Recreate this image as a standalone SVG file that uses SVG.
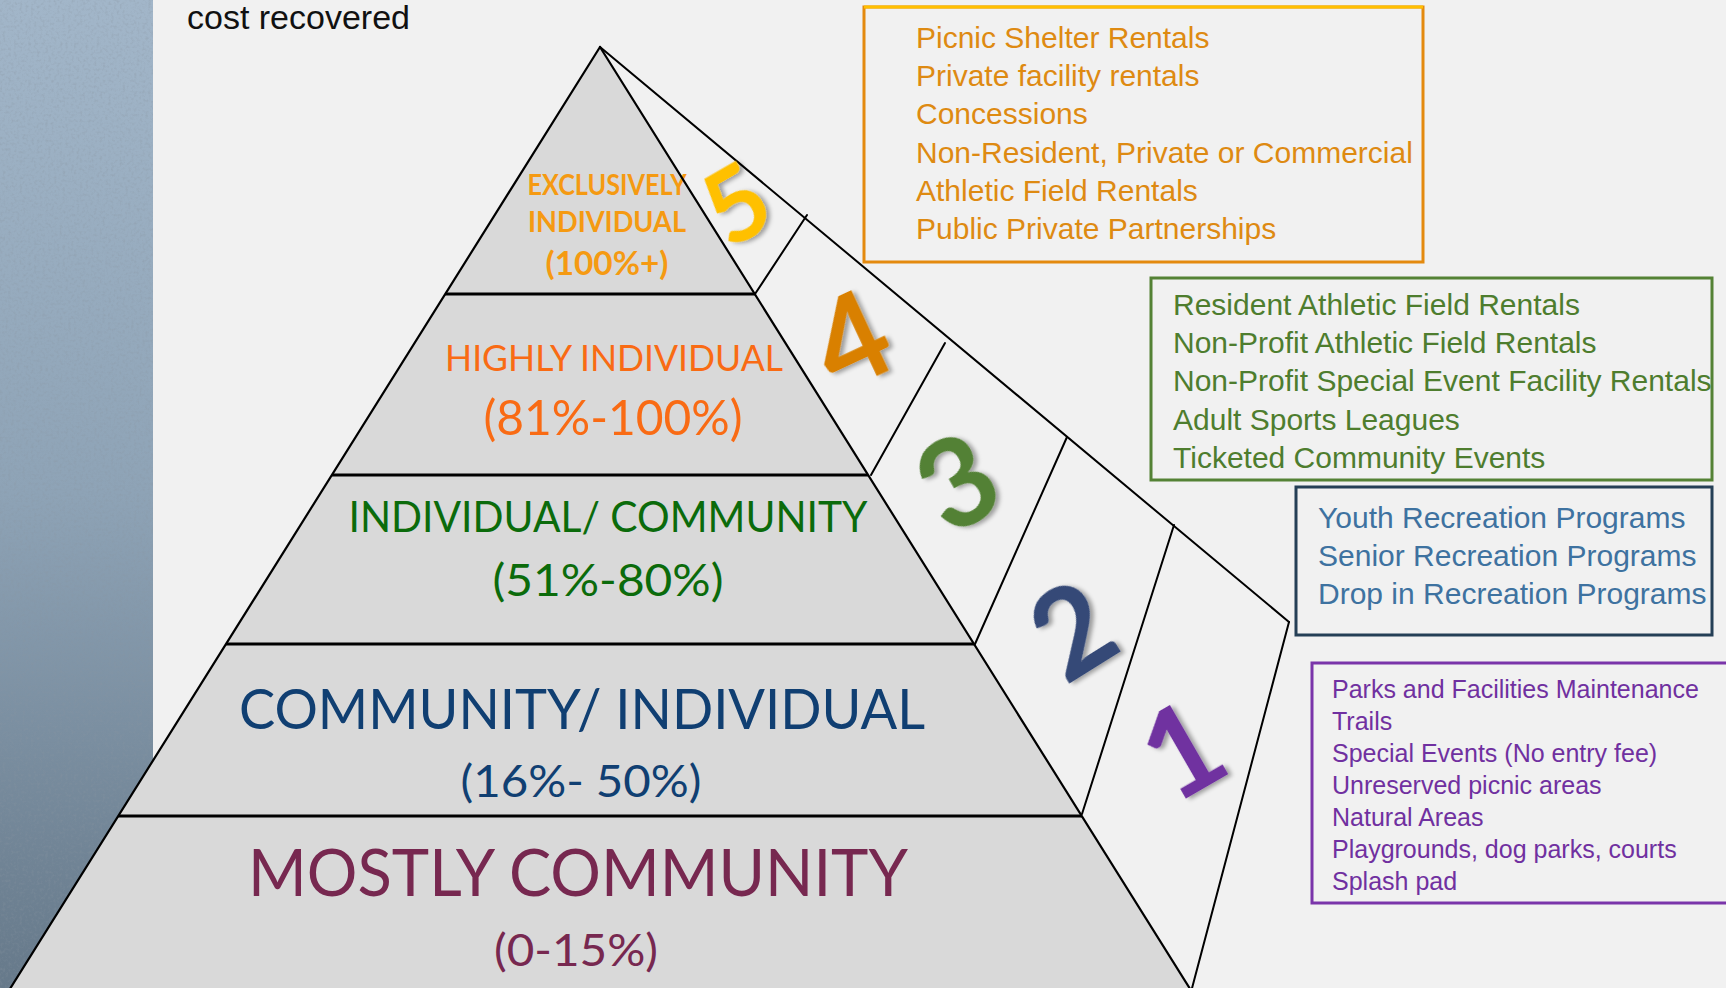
<svg xmlns="http://www.w3.org/2000/svg" width="1726" height="988" viewBox="0 0 1726 988">
  <defs>
    <linearGradient id="strip" x1="0" y1="0" x2="0" y2="1">
      <stop offset="0" stop-color="#a2b6c9"/>
      <stop offset="0.5" stop-color="#8ea3b6"/>
      <stop offset="1" stop-color="#66798a"/>
    </linearGradient>
    <filter id="noise" x="0" y="0" width="100%" height="100%">
      <feTurbulence type="fractalNoise" baseFrequency="0.35" numOctaves="2" seed="4" result="n"/>
      <feColorMatrix in="n" type="matrix" values="0 0 0 0 0.25  0 0 0 0 0.3  0 0 0 0 0.35  0 0 0 1.6 -0.75"/>
    </filter>
    <filter id="shadow" x="-30%" y="-30%" width="160%" height="160%">
      <feDropShadow dx="3" dy="3" stdDeviation="2" flood-color="#000" flood-opacity="0.35"/>
    </filter>
    <style>
      .layer { fill: #d9d9d9; stroke: none; }
      .edge { stroke: #000; stroke-width: 2.2; fill: none; stroke-linecap: round; }
      .div { stroke: #000; stroke-width: 3; fill: none; }
      .thin { stroke: #000; stroke-width: 2; fill: none; stroke-linecap: round; }
      .ptext { font-family: Lato, "Open Sans", "Liberation Sans", sans-serif; text-anchor: middle; }
      .num { font-family: Lato, "Open Sans", "Liberation Sans", sans-serif; font-size: 122px; font-weight: bold; text-anchor: middle; filter: url(#shadow); }
      .num5 { font-size: 102px; }
      .btext { font-family: "Liberation Sans", Arial, sans-serif; font-size: 30px; }
      .box { fill: none; stroke-width: 3; }
    </style>
  </defs>

  <rect x="0" y="0" width="1726" height="988" fill="#f1f1f1"/>
  <g id="side-strip">
    <rect x="0" y="0" width="153" height="988" fill="url(#strip)"/>
    <rect x="0" y="0" width="153" height="988" filter="url(#noise)" opacity="0.5"/>
  </g>

  <text id="caption" x="187" y="29" font-family="'Liberation Sans', Arial, sans-serif" font-size="34" fill="#111">cost recovered</text>

  <g id="layer-5">
    <polygon class="layer" points="600,47 755,294 445,294"/>
    <text class="ptext" x="607" y="195" font-size="28" font-weight="bold" fill="#f59a12" textLength="159" lengthAdjust="spacingAndGlyphs">EXCLUSIVELY</text>
    <text class="ptext" x="607" y="232" font-size="28" font-weight="bold" fill="#f59a12" textLength="158" lengthAdjust="spacingAndGlyphs">INDIVIDUAL</text>
    <text class="ptext" x="607" y="275" font-size="32" font-weight="bold" fill="#f59a12" textLength="123" lengthAdjust="spacingAndGlyphs">(100%+)</text>
  </g>
  <g id="layer-4">
    <polygon class="layer" points="445,294 755,294 868,475 332,475"/>
    <text class="ptext" x="614" y="371" font-size="36" fill="#f96b14" textLength="338" lengthAdjust="spacingAndGlyphs">HIGHLY INDIVIDUAL</text>
    <text class="ptext" x="613" y="435" font-size="49" fill="#f96b14" textLength="259" lengthAdjust="spacingAndGlyphs">(81%-100%)</text>
  </g>
  <g id="layer-3">
    <polygon class="layer" points="332,475 868,475 974,644 226,644"/>
    <text class="ptext" x="608" y="532" font-size="43" fill="#0b6b0b" textLength="519" lengthAdjust="spacingAndGlyphs">INDIVIDUAL/ COMMUNITY</text>
    <text class="ptext" x="608" y="596" font-size="45" fill="#0b6b0b" textLength="231" lengthAdjust="spacingAndGlyphs">(51%-80%)</text>
  </g>
  <g id="layer-2">
    <polygon class="layer" points="226,644 974,644 1082,816 118,816"/>
    <text class="ptext" x="582" y="729" font-size="56" fill="#103f72" textLength="686" lengthAdjust="spacingAndGlyphs">COMMUNITY/ INDIVIDUAL</text>
    <text class="ptext" x="581" y="797" font-size="44" fill="#103f72" textLength="241" lengthAdjust="spacingAndGlyphs">(16%- 50%)</text>
  </g>
  <g id="layer-1">
    <polygon class="layer" points="118,816 1082,816 1192,992 8,992"/>
    <text class="ptext" x="578" y="896" font-size="66" fill="#772850" textLength="660" lengthAdjust="spacingAndGlyphs">MOSTLY COMMUNITY</text>
    <text class="ptext" x="576" y="966" font-size="45" fill="#772850" textLength="164" lengthAdjust="spacingAndGlyphs">(0-15%)</text>
  </g>

  <g id="connectors">
    <line class="edge" x1="600" y1="47" x2="8" y2="992"/>
    <line class="edge" x1="600" y1="47" x2="1192" y2="992"/>
    <line class="div" x1="445" y1="294" x2="755" y2="294"/>
    <line class="div" x1="332" y1="475" x2="868" y2="475"/>
    <line class="div" x1="226" y1="644" x2="974" y2="644"/>
    <line class="div" x1="118" y1="816" x2="1082" y2="816"/>
    <line class="thin" x1="600" y1="47" x2="1289" y2="622"/>
    <line class="thin" x1="1289" y1="622" x2="1191" y2="992"/>
    <line class="thin" x1="755" y1="294" x2="807" y2="215"/>
    <line class="thin" x1="871" y1="475" x2="945" y2="343"/>
    <line class="thin" x1="975" y1="644" x2="1067" y2="437"/>
    <line class="thin" x1="1082" y1="814" x2="1174" y2="525"/>
  </g>

  <g id="tier-numbers">
    <text class="num num5" transform="translate(736,204) rotate(-30)" y="36" fill="#ffc000">5</text>
    <text class="num" transform="translate(851,340) rotate(-25)" y="44" fill="#d98000">4</text>
    <text class="num" transform="translate(957,482) rotate(-30)" y="44" fill="#538135">3</text>
    <text class="num" transform="translate(1072,630) rotate(-32)" y="44" fill="#344877">2</text>
    <text class="num" transform="translate(1182,750) rotate(-30)" y="44" fill="#7030a0">1</text>
  </g>

  <g id="box-5">
    <rect class="box" x="864" y="7" width="559" height="255" stroke="#e48a0e"/>
    <line x1="864" y1="7" x2="1423" y2="7" stroke="#ffc000" stroke-width="3"/>
    <g class="btext" fill="#de8a12">
      <text x="916" y="48">Picnic Shelter Rentals</text>
      <text x="916" y="86">Private facility rentals</text>
      <text x="916" y="124">Concessions</text>
      <text x="916" y="163">Non-Resident, Private or Commercial</text>
      <text x="916" y="201">Athletic Field Rentals</text>
      <text x="916" y="239">Public Private Partnerships</text>
    </g>
  </g>

  <g id="box-4">
    <rect class="box" x="1151" y="278" width="561" height="202" stroke="#548235"/>
    <g class="btext" fill="#4e7d2e">
      <text x="1173" y="315">Resident Athletic Field Rentals</text>
      <text x="1173" y="353">Non-Profit Athletic Field Rentals</text>
      <text x="1173" y="391">Non-Profit Special Event Facility Rentals</text>
      <text x="1173" y="430">Adult Sports Leagues</text>
      <text x="1173" y="468">Ticketed Community Events</text>
    </g>
  </g>

  <g id="box-3">
    <rect class="box" x="1296" y="487" width="416" height="148" stroke="#253f56" stroke-width="3.5"/>
    <g class="btext" fill="#3e72a0">
      <text x="1318" y="528">Youth Recreation Programs</text>
      <text x="1318" y="566">Senior Recreation Programs</text>
      <text x="1318" y="604">Drop in Recreation Programs</text>
    </g>
  </g>

  <g id="box-1">
    <rect class="box" x="1312" y="663" width="430" height="240" stroke="#7a35aa"/>
    <g fill="#7030a0" font-family="'Liberation Sans', Arial, sans-serif" font-size="25">
      <text x="1332" y="698">Parks and Facilities Maintenance</text>
      <text x="1332" y="730">Trails</text>
      <text x="1332" y="762">Special Events (No entry fee)</text>
      <text x="1332" y="794">Unreserved picnic areas</text>
      <text x="1332" y="826">Natural Areas</text>
      <text x="1332" y="858">Playgrounds, dog parks, courts</text>
      <text x="1332" y="890">Splash pad</text>
    </g>
  </g>
</svg>
